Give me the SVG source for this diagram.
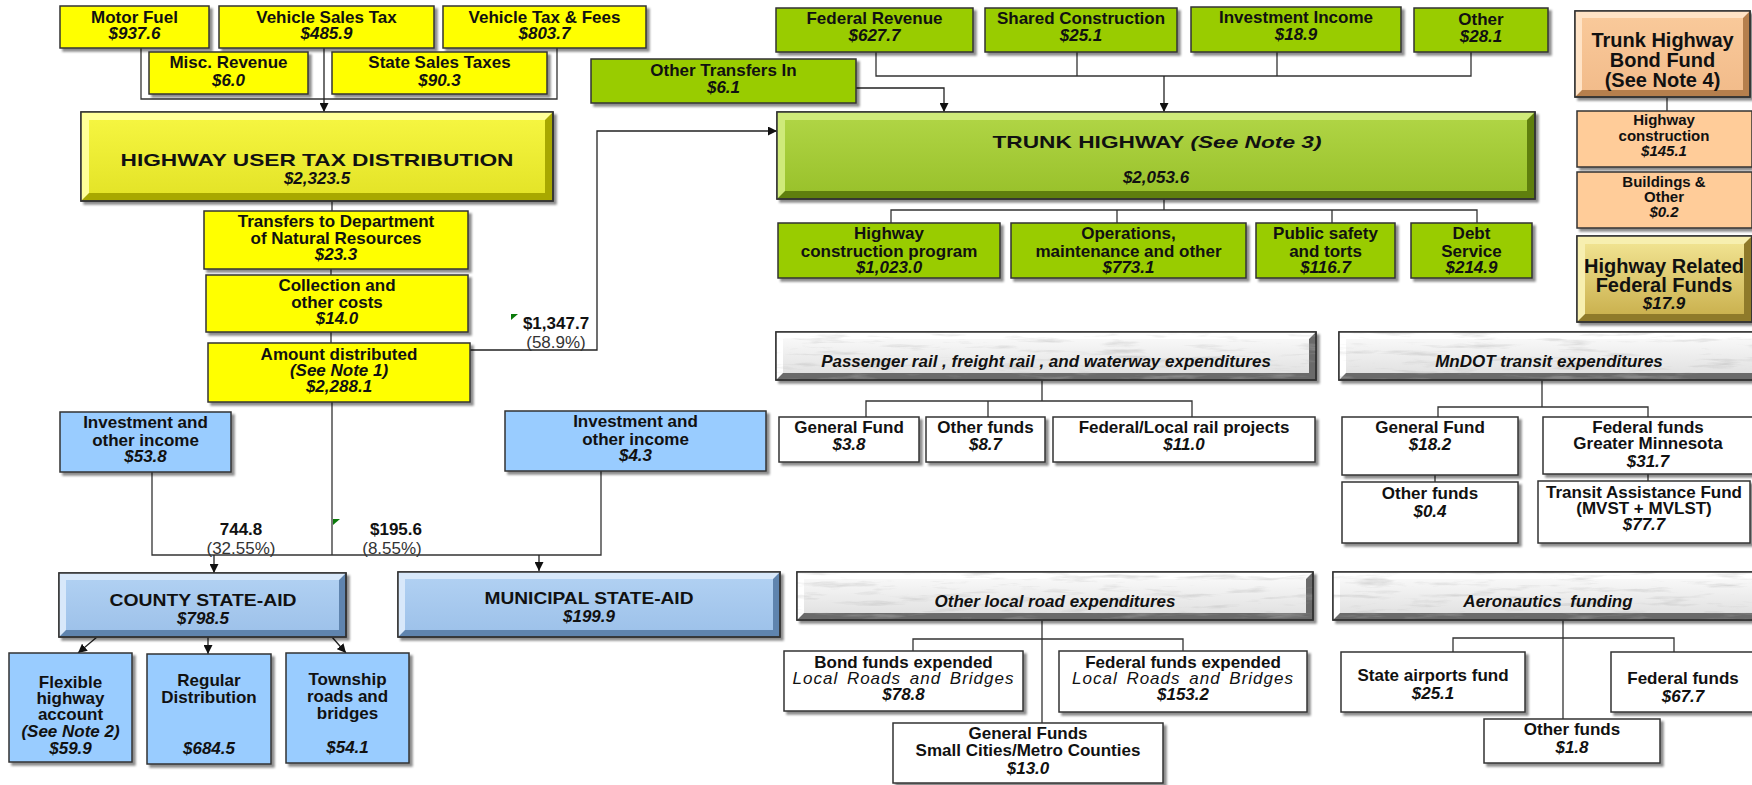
<svg xmlns="http://www.w3.org/2000/svg" width="1752" height="785" viewBox="0 0 1752 785">
<defs>
<filter id="sh" x="-5%" y="-5%" width="115%" height="125%"><feDropShadow dx="3" dy="3" stdDeviation="1.2" flood-color="#000" flood-opacity="0.45"/></filter>
<filter id="marb" x="0" y="0" width="100%" height="100%">
<feTurbulence type="fractalNoise" baseFrequency="0.02 0.16" numOctaves="4" seed="11" result="n"/>
<feColorMatrix in="n" type="matrix" values="0 0 0 0 0.45  0 0 0 0 0.45  0 0 0 0 0.45  -3.5 0 0 0 1.6" result="c"/>
<feComposite in="c" in2="SourceGraphic" operator="in"/>
</filter>
<linearGradient id="gy" x1="0" y1="0" x2="0" y2="1"><stop offset="0" stop-color="#F5F540"/><stop offset="1" stop-color="#E4E428"/></linearGradient>
<linearGradient id="gg" x1="0" y1="0" x2="0" y2="1"><stop offset="0" stop-color="#AFD444"/><stop offset="1" stop-color="#9AC22C"/></linearGradient>
<linearGradient id="gb" x1="0" y1="0" x2="0" y2="1"><stop offset="0" stop-color="#B0D0F2"/><stop offset="1" stop-color="#9EC2EA"/></linearGradient>
<linearGradient id="go" x1="0" y1="0" x2="0" y2="1"><stop offset="0" stop-color="#F9C99A"/><stop offset="1" stop-color="#F2BC8B"/></linearGradient>
<linearGradient id="gd" x1="0" y1="0" x2="0" y2="1"><stop offset="0" stop-color="#F0E290"/><stop offset="1" stop-color="#CBB250"/></linearGradient>
<linearGradient id="gm" x1="0" y1="0" x2="0" y2="1"><stop offset="0" stop-color="#F8F8F8"/><stop offset="1" stop-color="#E2E2E2"/></linearGradient>
<marker id="ah" viewBox="0 0 10 10" refX="10" refY="5" markerWidth="9" markerHeight="9" markerUnits="userSpaceOnUse" orient="auto"><path d="M0,0 L10,5 L0,10 z" fill="#111"/></marker>
</defs>
<style>
.bx{stroke:#333;stroke-width:1.5;filter:url(#sh)}
.y{fill:#FFFF00}.g{fill:#99CC00}.b{fill:#99CCFF}.o{fill:#FFCC99}.w{fill:#FFFFFF}
.ln{fill:none;stroke:#333;stroke-width:1.3}
.ar{fill:none;stroke:#222;stroke-width:1.3;marker-end:url(#ah)}
text{font-family:"Liberation Sans",Arial,Helvetica,sans-serif;font-size:17px;font-weight:bold;text-anchor:middle;fill:#111}
.v{font-style:italic}
.n{font-weight:normal}
.s15{font-size:15px}
.s20{font-size:20px}
.hd{font-size:17px;font-style:italic}
.lr{font-style:italic;font-weight:normal;letter-spacing:1px;word-spacing:3px}
.gr{font-weight:normal;fill:#333}
.mo{fill:#fff;opacity:0.4}
</style>
<rect width="1752" height="785" fill="#fff"/>

<g id="connectors">
<path class="ln" d="M141,48 V99 H557 V48"/>
<path class="ar" d="M324,48 V112"/>
<path class="ln" d="M332,201 V211 M331,269 V275 M331,332 V343"/>
<path class="ar" d="M470,350 H597 V131 H777"/>
<path class="ln" d="M152,472 V555 H601 V471 M332,402 V555"/>
<path class="ar" d="M214,555 V573"/>
<path class="ar" d="M539,555 V571"/>
<path class="ar" d="M97,637 L78,653"/>
<path class="ar" d="M208,637 V654"/>
<path class="ar" d="M332,637 L346,653"/>
<path class="ln" d="M876,52 V76 H1471 V52 M1077,52 V76 M1277,52 V76"/>
<path class="ar" d="M1164,76 V112"/>
<path class="ar" d="M856,88 H944 V112"/>
<path class="ln" d="M1164,199 V210 M891,223 V210 H1477 V223 M1117,210 V223 M1332,210 V223"/>
<path class="ln" d="M1667,97 V111"/>
<path class="ln" d="M1042,380 V401 M866,417 V401 H1192 V417 M988,401 V417"/>
<path class="ln" d="M1542,380 V407 M1438,417 V407 H1648 V417 M1435,475 V482 M1648,474 V481"/>
<path class="ln" d="M1042,620 V723 M913,651 V639 H1183 V651"/>
<path class="ln" d="M1563,620 V719 M1453,652 V638 H1674 V652"/>
<polygon points="511,314 518,314 511,320" fill="#0A7A0A"/>
<polygon points="333,519 340,519 333,525" fill="#0A7A0A"/>
<text x="556" y="329">$1,347.7</text>
<text class="gr" x="556" y="348">(58.9%)</text>
<text x="241" y="535">744.8</text>
<text class="gr" x="241" y="554">(32.55%)</text>
<text x="396" y="535">$195.6</text>
<text class="gr" x="392" y="554">(8.55%)</text>
</g>

<g id="motor-fuel"><rect class="bx y" x="60" y="6" width="149" height="42"/><text x="134.5" y="23">Motor Fuel</text><text class="v" x="134.5" y="39">$937.6</text></g>
<g id="vehicle-sales-tax"><rect class="bx y" x="219" y="6" width="215" height="42"/><text x="326.5" y="23">Vehicle Sales Tax</text><text class="v" x="326.5" y="39">$485.9</text></g>
<g id="vehicle-tax-fees"><rect class="bx y" x="443" y="6" width="203" height="42"/><text x="544.5" y="23">Vehicle Tax &amp; Fees</text><text class="v" x="544.5" y="39">$803.7</text></g>
<g id="misc-revenue"><rect class="bx y" x="149" y="52" width="159" height="42"/><text x="228.5" y="68">Misc. Revenue</text><text class="v" x="228.5" y="86">$6.0</text></g>
<g id="state-sales-taxes"><rect class="bx y" x="332" y="52" width="215" height="42"/><text x="439.5" y="68">State Sales Taxes</text><text class="v" x="439.5" y="86">$90.3</text></g>

<g id="hutd">
<rect class="bx" x="81" y="112" width="472" height="89" fill="#A8A800"/>
<polygon points="81,112 553,112 545,120 89,120 89,193 81,201" fill="#FFFF99"/>
<rect x="89" y="120" width="456" height="73" fill="url(#gy)"/>
<rect x="81" y="112" width="472" height="89" fill="none" stroke="#333" stroke-width="1.5"/>
<text x="317" y="165.5" font-size="18" textLength="393" lengthAdjust="spacingAndGlyphs">HIGHWAY USER TAX DISTRIBUTION</text>
<text class="v" x="317" y="184">$2,323.5</text>
</g>

<g id="transfers-dnr"><rect class="bx y" x="204" y="211" width="264" height="58"/><text x="336" y="227">Transfers to Department</text><text x="336" y="244">of Natural Resources</text><text class="v" x="336" y="260">$23.3</text></g>
<g id="collection-costs"><rect class="bx y" x="206" y="275" width="262" height="57"/><text x="337" y="291">Collection and</text><text x="337" y="308">other costs</text><text class="v" x="337" y="324">$14.0</text></g>
<g id="amount-distributed"><rect class="bx y" x="208" y="343" width="262" height="59"/><text x="339" y="360">Amount distributed</text><text class="v" x="339" y="376">(See Note 1)</text><text class="v" x="339" y="392">$2,288.1</text></g>

<g id="county-investment"><rect class="bx b" x="60" y="412" width="171" height="60"/><text x="145.5" y="428">Investment and</text><text x="145.5" y="446">other income</text><text class="v" x="145.5" y="462">$53.8</text></g>
<g id="municipal-investment"><rect class="bx b" x="505" y="411" width="261" height="60"/><text x="635.5" y="427">Investment and</text><text x="635.5" y="445">other income</text><text class="v" x="635.5" y="461">$4.3</text></g>

<g id="county-state-aid">
<rect class="bx" x="59" y="573" width="287" height="64" fill="#5F84AE"/>
<polygon points="59,573 346,573 339,580 66,580 66,630 59,637" fill="#D8E8FA"/>
<rect x="66" y="580" width="273" height="50" fill="url(#gb)"/>
<rect x="59" y="573" width="287" height="64" fill="none" stroke="#333" stroke-width="1.5"/>
<text x="203" y="606" font-size="15" textLength="187" lengthAdjust="spacingAndGlyphs">COUNTY STATE-AID</text>
<text class="v" x="203" y="624">$798.5</text>
</g>
<g id="municipal-state-aid">
<rect class="bx" x="398" y="572" width="382" height="65" fill="#5F84AE"/>
<polygon points="398,572 780,572 773,579 405,579 405,630 398,637" fill="#D8E8FA"/>
<rect x="405" y="579" width="368" height="51" fill="url(#gb)"/>
<rect x="398" y="572" width="382" height="65" fill="none" stroke="#333" stroke-width="1.5"/>
<text x="589" y="604" font-size="15" textLength="209" lengthAdjust="spacingAndGlyphs">MUNICIPAL STATE-AID</text>
<text class="v" x="589" y="622">$199.9</text>
</g>

<g id="flexible-highway"><rect class="bx b" x="9" y="653" width="123" height="109"/><text x="70.5" y="688">Flexible</text><text x="70.5" y="704">highway</text><text x="70.5" y="720">account</text><text class="v" x="70.5" y="737">(See Note 2)</text><text class="v" x="70.5" y="754">$59.9</text></g>
<g id="regular-distribution"><rect class="bx b" x="147" y="654" width="124" height="110"/><text x="209" y="686">Regular</text><text x="209" y="703">Distribution</text><text class="v" x="209" y="754">$684.5</text></g>
<g id="township-roads"><rect class="bx b" x="286" y="653" width="123" height="110"/><text x="347.5" y="685">Township</text><text x="347.5" y="702">roads and</text><text x="347.5" y="719">bridges</text><text class="v" x="347.5" y="753">$54.1</text></g>

<g id="federal-revenue"><rect class="bx g" x="776" y="8" width="197" height="44"/><text x="874.5" y="24">Federal Revenue</text><text class="v" x="874.5" y="41">$627.7</text></g>
<g id="shared-construction"><rect class="bx g" x="985" y="8" width="192" height="44"/><text x="1081" y="24">Shared Construction</text><text class="v" x="1081" y="41">$25.1</text></g>
<g id="investment-income"><rect class="bx g" x="1191" y="7" width="210" height="45"/><text x="1296" y="23">Investment Income</text><text class="v" x="1296" y="40">$18.9</text></g>
<g id="other-revenue"><rect class="bx g" x="1414" y="8" width="134" height="44"/><text x="1481" y="25">Other</text><text class="v" x="1481" y="42">$28.1</text></g>
<g id="other-transfers-in"><rect class="bx g" x="591" y="59" width="265" height="44"/><text x="723.5" y="76">Other Transfers In</text><text class="v" x="723.5" y="93">$6.1</text></g>

<g id="trunk-highway">
<rect class="bx" x="777" y="112" width="758" height="87" fill="#5E7F10"/>
<polygon points="777,112 1535,112 1527,120 785,120 785,191 777,199" fill="#CFEA7A"/>
<rect x="785" y="120" width="742" height="71" fill="url(#gg)"/>
<rect x="777" y="112" width="758" height="87" fill="none" stroke="#333" stroke-width="1.5"/>
<text x="1157" y="147.5" font-size="18" textLength="329" lengthAdjust="spacingAndGlyphs">TRUNK HIGHWAY <tspan font-style="italic">(See Note 3)</tspan></text>
<text class="v" x="1156" y="183">$2,053.6</text>
</g>

<g id="highway-construction-program"><rect class="bx g" x="778" y="223" width="222" height="55"/><text x="889" y="239">Highway</text><text x="889" y="257">construction program</text><text class="v" x="889" y="273">$1,023.0</text></g>
<g id="operations-maintenance"><rect class="bx g" x="1011" y="223" width="235" height="55"/><text x="1128.5" y="239">Operations,</text><text x="1128.5" y="257">maintenance and other</text><text class="v" x="1128.5" y="273">$773.1</text></g>
<g id="public-safety"><rect class="bx g" x="1256" y="223" width="139" height="55"/><text x="1325.5" y="239">Public safety</text><text x="1325.5" y="257">and torts</text><text class="v" x="1325.5" y="273">$116.7</text></g>
<g id="debt-service"><rect class="bx g" x="1411" y="223" width="121" height="55"/><text x="1471.5" y="239">Debt</text><text x="1471.5" y="257">Service</text><text class="v" x="1471.5" y="273">$214.9</text></g>

<g id="bond-fund">
<rect class="bx" x="1575" y="11" width="175" height="86" fill="#B57F4E"/>
<polygon points="1575,11 1750,11 1743,18 1582,18 1582,90 1575,97" fill="#FFE3C6"/>
<rect x="1582" y="18" width="161" height="72" fill="url(#go)"/>
<rect x="1575" y="11" width="175" height="86" fill="none" stroke="#333" stroke-width="1.5"/>
<text class="s20" x="1662.5" y="47">Trunk Highway</text><text class="s20" x="1662.5" y="67">Bond Fund</text><text class="s20" x="1662.5" y="87">(See Note 4)</text>
</g>
<g id="bond-highway-construction"><rect class="bx o" x="1577" y="111" width="175" height="56"/><text class="s15" x="1664" y="125">Highway</text><text class="s15" x="1664" y="141">construction</text><text class="s15 v" x="1664" y="156">$145.1</text></g>
<g id="bond-buildings-other"><rect class="bx o" x="1577" y="172" width="175" height="56"/><text class="s15" x="1664" y="187">Buildings &amp;</text><text class="s15" x="1664" y="202">Other</text><text class="s15 v" x="1664" y="217">$0.2</text></g>
<g id="highway-related-federal-funds">
<rect class="bx" x="1577" y="236" width="175" height="86" fill="#8F7A2A"/>
<polygon points="1577,236 1752,236 1744,244 1585,244 1585,314 1577,322" fill="#F7EFB0"/>
<rect x="1585" y="244" width="159" height="70" fill="url(#gd)"/>
<rect x="1577" y="236" width="175" height="86" fill="none" stroke="#333" stroke-width="1.5"/>
<text class="s20" x="1664" y="273">Highway Related</text><text class="s20" x="1664" y="292">Federal Funds</text><text class="v" font-size="19" x="1664" y="309">$17.9</text>
</g>

<g id="passenger-rail-header">
<rect class="bx" x="776" y="332" width="540" height="48" fill="#6A6A6A"/>
<polygon points="776,332 1316,332 1309,339 783,339 783,373 776,380" fill="#FFFFFF"/>
<rect x="783" y="339" width="526" height="34" fill="url(#gm)"/>
<rect class="mo" x="776" y="332" width="540" height="48" filter="url(#marb)"/>
<rect x="776" y="332" width="540" height="48" fill="none" stroke="#333" stroke-width="1.5"/>
<text class="hd" x="1046" y="367">Passenger rail , freight rail , and waterway expenditures</text>
</g>
<g id="rail-general-fund"><rect class="bx w" x="779" y="417" width="140" height="45"/><text x="849" y="433">General Fund</text><text class="v" x="849" y="450">$3.8</text></g>
<g id="rail-other-funds"><rect class="bx w" x="926" y="417" width="119" height="45"/><text x="985.5" y="433">Other funds</text><text class="v" x="985.5" y="450">$8.7</text></g>
<g id="rail-federal-local"><rect class="bx w" x="1053" y="417" width="262" height="45"/><text x="1184" y="433">Federal/Local rail projects</text><text class="v" x="1184" y="450">$11.0</text></g>

<g id="transit-header">
<rect class="bx" x="1339" y="332" width="420" height="48" fill="#6A6A6A"/>
<polygon points="1339,332 1759,332 1752,339 1346,339 1346,373 1339,380" fill="#FFFFFF"/>
<rect x="1346" y="339" width="406" height="34" fill="url(#gm)"/>
<rect class="mo" x="1339" y="332" width="420" height="48" filter="url(#marb)"/>
<rect x="1339" y="332" width="420" height="48" fill="none" stroke="#333" stroke-width="1.5"/>
<text class="hd" x="1549" y="367">MnDOT transit expenditures</text>
</g>
<g id="transit-general-fund"><rect class="bx w" x="1342" y="417" width="176" height="58"/><text x="1430" y="433">General Fund</text><text class="v" x="1430" y="450">$18.2</text></g>
<g id="transit-other-funds"><rect class="bx w" x="1342" y="482" width="176" height="61"/><text x="1430" y="499">Other funds</text><text class="v" x="1430" y="517">$0.4</text></g>
<g id="transit-federal-funds"><rect class="bx w" x="1543" y="417" width="215" height="57"/><text x="1648" y="433">Federal funds</text><text x="1648" y="449">Greater Minnesota</text><text class="v" x="1648" y="467">$31.7</text></g>
<g id="transit-assistance-fund"><rect class="bx w" x="1538" y="481" width="212" height="62"/><text x="1644" y="498">Transit Assistance Fund</text><text x="1644" y="514">(MVST + MVLST)</text><text class="v" x="1644" y="530">$77.7</text></g>

<g id="local-road-header">
<rect class="bx" x="797" y="572" width="516" height="48" fill="#6A6A6A"/>
<polygon points="797,572 1313,572 1306,579 804,579 804,613 797,620" fill="#FFFFFF"/>
<rect x="804" y="579" width="502" height="34" fill="url(#gm)"/>
<rect class="mo" x="797" y="572" width="516" height="48" filter="url(#marb)"/>
<rect x="797" y="572" width="516" height="48" fill="none" stroke="#333" stroke-width="1.5"/>
<text class="hd" x="1055" y="607">Other local road expenditures</text>
</g>
<g id="bond-funds-expended"><rect class="bx w" x="784" y="651" width="239" height="60"/><text x="903.5" y="668">Bond funds expended</text><text class="lr" x="903.5" y="684">Local Roads and Bridges</text><text class="v" x="903.5" y="700">$78.8</text></g>
<g id="federal-funds-expended"><rect class="bx w" x="1059" y="651" width="248" height="61"/><text x="1183" y="668">Federal funds expended</text><text class="lr" x="1183" y="684">Local Roads and Bridges</text><text class="v" x="1183" y="700">$153.2</text></g>
<g id="general-funds-small-cities"><rect class="bx w" x="893" y="723" width="270" height="60"/><text x="1028" y="739">General Funds</text><text x="1028" y="756">Small Cities/Metro Counties</text><text class="v" x="1028" y="774">$13.0</text></g>

<g id="aeronautics-header">
<rect class="bx" x="1333" y="572" width="430" height="48" fill="#6A6A6A"/>
<polygon points="1333,572 1763,572 1756,579 1340,579 1340,613 1333,620" fill="#FFFFFF"/>
<rect x="1340" y="579" width="416" height="34" fill="url(#gm)"/>
<rect class="mo" x="1333" y="572" width="430" height="48" filter="url(#marb)"/>
<rect x="1333" y="572" width="430" height="48" fill="none" stroke="#333" stroke-width="1.5"/>
<text class="hd" x="1548" y="607" word-spacing="4">Aeronautics funding</text>
</g>
<g id="state-airports-fund"><rect class="bx w" x="1341" y="652" width="184" height="60"/><text x="1433" y="681">State airports fund</text><text class="v" x="1433" y="699">$25.1</text></g>
<g id="aero-federal-funds"><rect class="bx w" x="1611" y="652" width="150" height="60"/><text x="1683" y="684">Federal funds</text><text class="v" x="1683" y="702">$67.7</text></g>
<g id="aero-other-funds"><rect class="bx w" x="1484" y="719" width="176" height="44"/><text x="1572" y="735">Other funds</text><text class="v" x="1572" y="753">$1.8</text></g>
</svg>
